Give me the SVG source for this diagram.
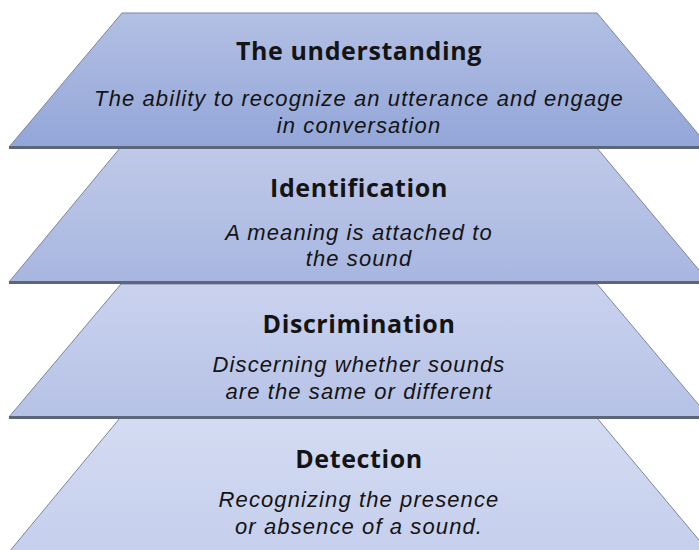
<svg xmlns="http://www.w3.org/2000/svg" width="699" height="550" viewBox="0 0 699 550">
  <defs>
    <linearGradient id="g1" x1="0" y1="0" x2="0" y2="1">
      <stop offset="0" stop-color="#b3c0e4"/>
      <stop offset="1" stop-color="#93a6d8"/>
    </linearGradient>
    <linearGradient id="g2" x1="0" y1="0" x2="0" y2="1">
      <stop offset="0" stop-color="#bfc9e8"/>
      <stop offset="1" stop-color="#a8b6e0"/>
    </linearGradient>
    <linearGradient id="g3" x1="0" y1="0" x2="0" y2="1">
      <stop offset="0" stop-color="#cad2ee"/>
      <stop offset="1" stop-color="#b6c2e6"/>
    </linearGradient>
    <linearGradient id="g4" x1="0" y1="0" x2="0" y2="1">
      <stop offset="0" stop-color="#d4dcf2"/>
      <stop offset="1" stop-color="#c5ceec"/>
    </linearGradient>
  </defs>
  <style>
    .tier { stroke: #7a86a2; stroke-width: 1; }
    .base { fill: #5d6579; }
    .title { font-family: "Open Sans", "Liberation Sans", sans-serif; font-weight: bold; font-size: 25px; letter-spacing: 0.6px; fill: #141414; text-anchor: middle; }
    .desc { font-family: "Liberation Sans", Arial, sans-serif; font-style: italic; font-size: 22px; letter-spacing: 1.1px; fill: #141414; text-anchor: middle; }
  </style>

  <rect width="699" height="550" fill="#ffffff"/>

  <!-- lowest tier drawn first so each upper tier's base line overlaps the next -->
  <g id="detection">
    <polygon class="tier" points="120,418 597,418 709,552 9,552" fill="url(#g4)"/>
    <text class="title" x="359" y="468">Detection</text>
    <text class="desc" x="359" y="507">Recognizing the presence</text>
    <text class="desc" x="359" y="534">or absence of a sound.</text>
  </g>

  <g id="discrimination">
    <polygon class="tier" points="121,284 597,284 709,417 9,417" fill="url(#g3)"/>
    <rect class="base" x="9" y="416" width="690" height="3"/>
    <text class="title" x="359" y="333">Discrimination</text>
    <text class="desc" x="359" y="372">Discerning whether sounds</text>
    <text class="desc" x="359" y="399">are the same or different</text>
  </g>

  <g id="identification">
    <polygon class="tier" points="120,148 597,148 709,282 9,282" fill="url(#g2)"/>
    <rect class="base" x="9" y="281" width="690" height="3"/>
    <text class="title" x="359" y="197">Identification</text>
    <text class="desc" x="359" y="240">A meaning is attached to</text>
    <text class="desc" x="359" y="266">the sound</text>
  </g>

  <g id="understanding">
    <polygon class="tier" points="122,13 597,13 709,147 9,147" fill="url(#g1)"/>
    <rect class="base" x="9" y="146" width="690" height="3"/>
    <text class="title" x="359" y="60">The understanding</text>
    <text class="desc" x="359" y="106">The ability to recognize an utterance and engage</text>
    <text class="desc" x="359" y="133">in conversation</text>
  </g>

  <g id="connectors"/>
</svg>
